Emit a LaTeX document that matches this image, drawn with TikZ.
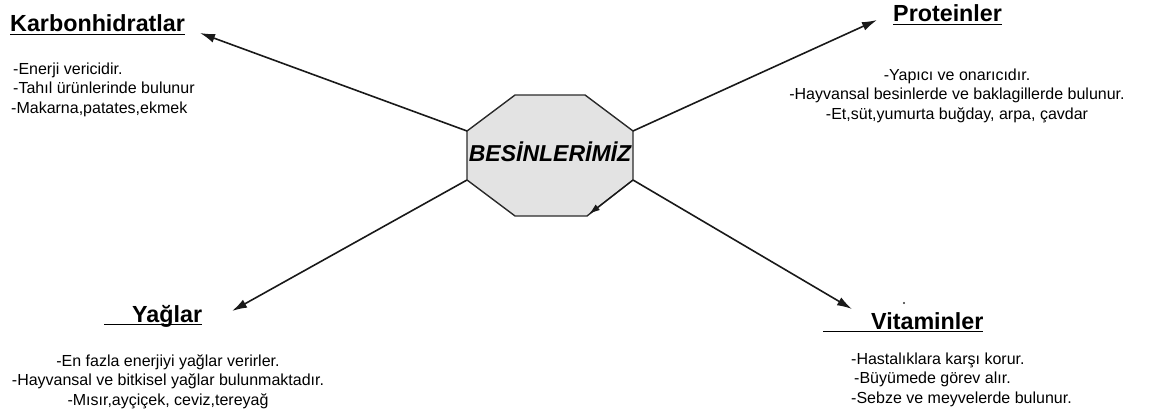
\documentclass[tikz,border=0pt]{standalone}
\usepackage{fontspec}
\setmainfont{Liberation Sans}
\usetikzlibrary{arrows.meta}
\definecolor{OctFill}{HTML}{E3E3E3}
\definecolor{OctLine}{HTML}{2B2B2B}
\newcommand{\baslik}[1]{\setbox0\hbox{#1}\rlap{\rule[-3.4pt]{\wd0}{1.8pt}}\box0}

\begin{document}
\begin{tikzpicture}[>={Latex[length=15pt,width=9pt]},x=1pt,y=-1pt,
    title/.style={anchor=base west,inner sep=0pt,font=\fontsize{23.3}{27}\selectfont\bfseries},
    body/.style={inner sep=0pt,font=\fontsize{16}{19.5}\selectfont},
    link/.style={->,line width=1.6pt,black!90}]
  \useasboundingbox (0,0) rectangle (1158,412);
  % center octagon
  \coordinate (o1) at (515,95);  \coordinate (o2) at (585,95);
  \coordinate (o3) at (633,131); \coordinate (o4) at (633,180);
  \coordinate (o5) at (587,216); \coordinate (o6) at (515,216);
  \coordinate (o7) at (467,180); \coordinate (o8) at (467,131);
  \draw[fill=OctFill,draw=OctLine,line width=1.4pt]
    (o1) -- (o2) -- (o3) -- (o4) -- (o5) -- (o6) -- (o7) -- (o8) -- cycle;
  \node[inner sep=0pt,font=\fontsize{23}{27}\selectfont\bfseries\itshape] (besin) at (550,152) {BESİNLERİMİZ};
  \coordinate (kuc) at (589,214);
  \draw[->,line width=1.2pt,black!90,>={Latex[length=11pt,width=7pt]}] (o4) -- (kuc);

  % titles
  \node[title] (karb) at (10,32) {\baslik{Karbonhidratlar}};
  \node[title] (prot) at (893,22) {\baslik{Proteinler}};
  \node[title] (yag) at (104,322) {\baslik{\hspace{28pt}Yağlar}};
  \node[title] (vit) at (823,329) {\baslik{\hspace{48pt}Vitaminler}};

  % arrows
  \coordinate (karbuc) at (200,33);
  \coordinate (protuc) at (877,20);
  \coordinate (yaguc) at (232,311);
  \coordinate (vituc) at (852,309);
  \draw[link] (o8) -- (karbuc);
  \draw[link] (o3) -- (protuc);
  \draw[link] (o7) -- (yaguc);
  \draw[link] (o4) -- (vituc);
  \fill[black!80] (904,303) circle (1.2pt);

  % lists
  \node[body,align=left,anchor=north west] (karbtxt) at (11,62.5)
    {\hspace{2pt}-Enerji vericidir.\\ \hspace{2pt}-Tahıl ürünlerinde bulunur\\-Makarna,patates,ekmek};
  \node[body,align=center,anchor=north] (prottxt) at (957,68.5)
    {-Yapıcı ve onarıcıdır.\\-Hayvansal besinlerde ve baklagillerde bulunur.\\-Et,süt,yumurta buğday, arpa, çavdar};
  \node[body,align=center,anchor=north] (yagtxt) at (168,354)
    {-En fazla enerjiyi yağlar verirler.\\-Hayvansal ve bitkisel yağlar bulunmaktadır.\\-Mısır,ayçiçek, ceviz,tereyağ};
  \node[body,align=left,anchor=north west] (vittxt) at (851,352.5)
    {-Hastalıklara karşı korur.\\ \hspace{3pt}-Büyümede görev alır.\\-Sebze ve meyvelerde bulunur.};
\end{tikzpicture}
\end{document}
